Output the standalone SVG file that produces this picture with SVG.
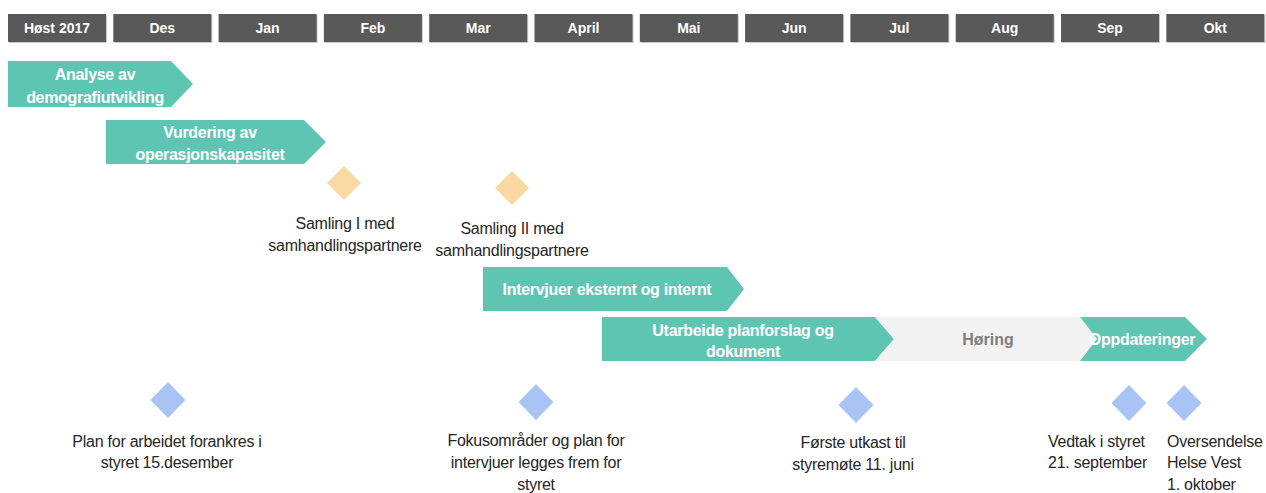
<svg xmlns="http://www.w3.org/2000/svg" width="1266" height="493" viewBox="0 0 1266 493">
<style>
.hd{fill:#595959}
.hs{fill:#c8c8c8}
.ht{font-family:"Liberation Sans",Arial,sans-serif;font-weight:bold;font-size:14px;fill:#ffffff;text-anchor:middle}
.bar{fill:#5fc5b3}
.gray{fill:#f2f2f2}
.bt{font-family:"Liberation Sans",Arial,sans-serif;font-weight:bold;font-size:16px;fill:#ffffff;text-anchor:middle;letter-spacing:-0.3px}
.gt{font-family:"Liberation Sans",Arial,sans-serif;font-weight:bold;font-size:16px;fill:#7f7f7f;text-anchor:middle}
.od{fill:#f9d8a2}
.bd{fill:#a8c4f5}
.lt{font-family:"Liberation Sans",Arial,sans-serif;font-size:16px;fill:#262626;text-anchor:middle;letter-spacing:-0.25px}
.ls{text-anchor:start}
</style>
<g id="header">
<rect class="hs" x="9" y="15" width="98" height="28"/><rect class="hd" x="8" y="14" width="98" height="28"/><text class="ht" x="57" y="33">Høst 2017</text>
<rect class="hs" x="114.3" y="15" width="98" height="28"/><rect class="hd" x="113.3" y="14" width="98" height="28"/><text class="ht" x="162.3" y="33">Des</text>
<rect class="hs" x="219.6" y="15" width="98" height="28"/><rect class="hd" x="218.6" y="14" width="98" height="28"/><text class="ht" x="267.6" y="33">Jan</text>
<rect class="hs" x="324.9" y="15" width="98" height="28"/><rect class="hd" x="323.9" y="14" width="98" height="28"/><text class="ht" x="372.9" y="33">Feb</text>
<rect class="hs" x="430.2" y="15" width="98" height="28"/><rect class="hd" x="429.2" y="14" width="98" height="28"/><text class="ht" x="478.2" y="33">Mar</text>
<rect class="hs" x="535.5" y="15" width="98" height="28"/><rect class="hd" x="534.5" y="14" width="98" height="28"/><text class="ht" x="583.5" y="33">April</text>
<rect class="hs" x="640.8" y="15" width="98" height="28"/><rect class="hd" x="639.8" y="14" width="98" height="28"/><text class="ht" x="688.8" y="33">Mai</text>
<rect class="hs" x="746.1" y="15" width="98" height="28"/><rect class="hd" x="745.1" y="14" width="98" height="28"/><text class="ht" x="794.1" y="33">Jun</text>
<rect class="hs" x="851.4" y="15" width="98" height="28"/><rect class="hd" x="850.4" y="14" width="98" height="28"/><text class="ht" x="899.4" y="33">Jul</text>
<rect class="hs" x="956.7" y="15" width="98" height="28"/><rect class="hd" x="955.7" y="14" width="98" height="28"/><text class="ht" x="1004.7" y="33">Aug</text>
<rect class="hs" x="1062" y="15" width="98" height="28"/><rect class="hd" x="1061" y="14" width="98" height="28"/><text class="ht" x="1110" y="33">Sep</text>
<rect class="hs" x="1167.3" y="15" width="98" height="28"/><rect class="hd" x="1166.3" y="14" width="98" height="28"/><text class="ht" x="1215.3" y="33">Okt</text>
</g>
<g id="analyse">
<polygon class="bar" points="8,61 171,61 193,84 171,107 8,107"/>
<text class="bt" x="95" y="80">Analyse av</text>
<text class="bt" x="95" y="103">demografiutvikling</text>
</g>
<g id="vurdering">
<polygon class="bar" points="106,120 304,120 326,142 304,164 106,164"/>
<text class="bt" x="210" y="138">Vurdering av</text>
<text class="bt" x="210" y="160">operasjonskapasitet</text>
</g>
<g id="samling1">
<polygon class="od" points="344,166 361,183 344,200 327,183"/>
<text class="lt" x="345" y="229">Samling I med</text>
<text class="lt" x="345" y="251">samhandlingspartnere</text>
</g>
<g id="samling2">
<polygon class="od" points="512,171 529,188 512,205 495,188"/>
<text class="lt" x="512" y="234">Samling II med</text>
<text class="lt" x="512" y="256">samhandlingspartnere</text>
</g>
<g id="intervjuer">
<polygon class="bar" points="483,267 727,267 744,289 727,311 483,311"/>
<text class="bt" x="607" y="295">Intervjuer eksternt og internt</text>
</g>
<g id="utarbeide">
<polygon class="bar" points="602,317 875,317 894,339 875,361 602,361"/>
<text class="bt" x="743" y="336">Utarbeide planforslag og</text>
<text class="bt" x="743" y="357">dokument</text>
</g>
<g id="horing">
<polygon class="gray" points="875,317 1080,317 1097,339 1080,361 875,361 894,339"/>
<text class="gt" x="988" y="345">Høring</text>
</g>
<g id="oppdateringer">
<polygon class="bar" points="1080,317 1185,317 1207,339 1185,361 1080,361 1097,339"/>
<text class="bt" x="1142" y="345">Oppdateringer</text>
</g>
<g id="plan">
<polygon class="bd" points="168,382 185.5,400 168,418 150.5,400"/>
<text class="lt" x="167" y="447">Plan for arbeidet forankres i</text>
<text class="lt" x="167" y="468">styret 15.desember</text>
</g>
<g id="fokus">
<polygon class="bd" points="536,384 553.5,402 536,420 518.5,402"/>
<text class="lt" x="536" y="446">Fokusområder og plan for</text>
<text class="lt" x="536" y="468">intervjuer legges frem for</text>
<text class="lt" x="536" y="490">styret</text>
</g>
<g id="forste">
<polygon class="bd" points="856,387 873.5,405 856,423 838.5,405"/>
<text class="lt" x="853" y="448">Første utkast til</text>
<text class="lt" x="853" y="470">styremøte 11. juni</text>
</g>
<g id="vedtak">
<polygon class="bd" points="1129,385 1146.5,403 1129,421 1111.5,403"/>
<text class="lt ls" x="1048" y="447">Vedtak i styret</text>
<text class="lt ls" x="1048" y="468">21. september</text>
</g>
<g id="oversendelse">
<polygon class="bd" points="1184,385 1201.5,403 1184,421 1166.5,403"/>
<text class="lt ls" x="1167" y="447">Oversendelse</text>
<text class="lt ls" x="1167" y="468">Helse Vest</text>
<text class="lt ls" x="1167" y="490">1. oktober</text>
</g>
<g id="connectors"></g>
</svg>
